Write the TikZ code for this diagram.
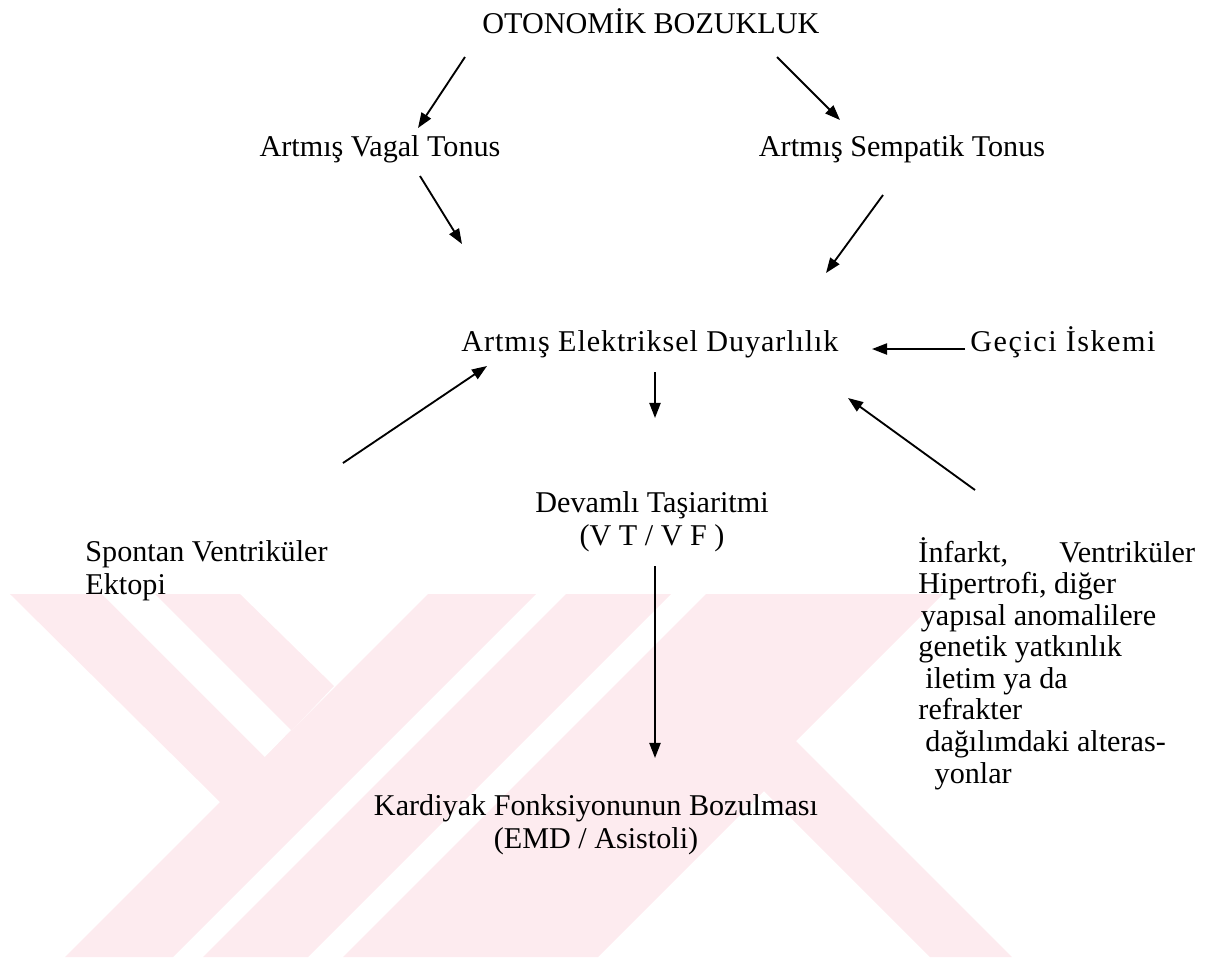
\documentclass[tikz,border=0pt]{standalone}
\usepackage{fontspec}
\setmainfont{Liberation Serif}
\usetikzlibrary{arrows.meta}

\definecolor{tezpink}{RGB}{253,235,239}

\tikzset{
	lbl/.style={font=\fontsize{13}{14.2}\selectfont, inner sep=0pt, anchor=base},
	arr/.style={-{Triangle[length=6.5pt,width=4.8pt]}, line width=0.8pt},
}

\begin{document}
\begin{tikzpicture}[x=0.431pt,y=-0.431pt]
	\useasboundingbox (0,0) rectangle (1216,957);
	
	\begin{scope}
		\clip (0,594) rectangle (1216,957);
		\fill[tezpink] (10,594) -- (240,594) -- (334,686) -- (222,804) -- cycle;
		\fill[white] (102,594) -- (155,594) -- (291,730) -- (265,757) -- cycle;
		\fill[tezpink] (428,594) -- (536,594) -- (173,957) -- (65,957) -- cycle;
		\fill[tezpink] (566,594) -- (671,594) -- (308,957) -- (203,957) -- cycle;
		\fill[tezpink] (706,594) -- (943,594) -- (796,741) -- (1012,957) -- (930,957) -- (764,791) -- (598,957) -- (343,957) -- cycle;
	\end{scope}
	
	\node[lbl] (oto) at (651,33) {OTONOMİK BOZUKLUK};
	\node[lbl] (vagal) at (380,156) {Artmış Vagal Tonus};
	\node[lbl] (semp) at (902,156) {Artmış Sempatik Tonus};
	\node[lbl,font=\fontsize{13}{14.2}\selectfont\addfontfeatures{LetterSpace=3}] (elek) at (650,351) {Artmış Elektriksel Duyarlılık};
	\node[lbl,anchor=base west,font=\fontsize{13}{14.2}\selectfont\addfontfeatures{LetterSpace=5}] (gecici) at (970,351) {Geçici İskemi};
	\node[lbl,align=center] (devam) at (652,545) {Devamlı Taşiaritmi\\(V T / V F )};
	\node[lbl,anchor=base west,align=left] (spontan) at (85,594) {Spontan Ventriküler\\Ektopi};
	\node[lbl,anchor=base west,align=left,font=\fontsize{13}{13.6}\selectfont] (infarkt) at (918,783) {İnfarkt,\hspace{1.7em}Ventriküler\\Hipertrofi, diğer\\\hspace*{1pt}yapısal anomalilere\\genetik yatkınlık\\\hspace*{3pt}iletim ya da\\refrakter\\\hspace*{3pt}dağılımdaki alteras-\\\hspace*{7pt}yonlar};
	\node[lbl,align=center] (kard) at (596,848) {Kardiyak Fonksiyonunun Bozulması\\(EMD / Asistoli)};
	
	\draw[arr] ([shift={(-186,24)}]oto.base) -- ([shift={(38,-28)}]vagal.base);
	\draw[arr] ([shift={(126,24)}]oto.base) -- ([shift={(-62,-36)}]semp.base);
	\draw[arr] ([shift={(40,20)}]vagal.base) -- ([shift={(-188,-107)}]elek.base);
	\draw[arr] ([shift={(-19,39)}]semp.base) -- ([shift={(176,-78)}]elek.base);
	\draw[arr] ([shift={(-5,-2)}]gecici.base west) -- ([shift={(222,-2)}]elek.base);
	\draw[arr] ([shift={(5,21)}]elek.base) -- ([shift={(3,-127)}]devam.base);
	\draw[arr] ([shift={(258,-131)}]spontan.base west) -- ([shift={(-163,15)}]elek.base);
	\draw[arr] ([shift={(57,-293)}]infarkt.base west) -- ([shift={(198,47)}]elek.base);
	\draw[arr] ([shift={(3,21)}]devam.base) -- ([shift={(59,-90)}]kard.base);
	
\end{tikzpicture}
\end{document}
